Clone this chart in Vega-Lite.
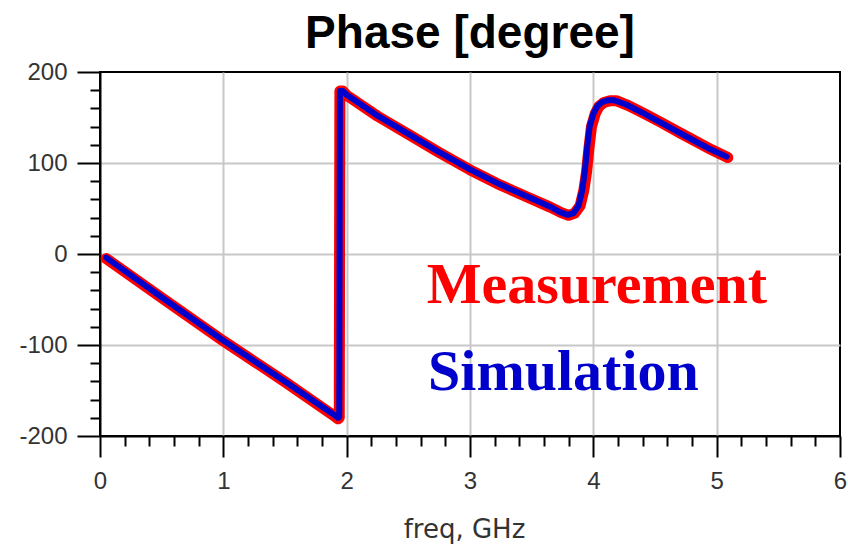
{
  "$schema": "https://vega.github.io/schema/vega-lite/v6.json",
  "width": 740,
  "height": 364,
  "autosize": {"type": "none"},
  "padding": {"left": 100, "top": 72, "right": 8, "bottom": 109},
  "background": "white",
  "title": {"text": "Phase [degree]", "font": "Liberation Sans", "fontSize": 46, "fontWeight": "bold", "color": "#000000", "anchor": "middle", "frame": "group", "baseline": "alphabetic", "offset": -34},
  "config": {"view": {"stroke": "#000000", "strokeWidth": 2}},
  "datasets": {
    "sim": [
      {"f": 0.05, "v": -4}, {"f": 0.5, "v": -47.5}, {"f": 1.0, "v": -95}, {"f": 1.5, "v": -140}, {"f": 1.9, "v": -177}, {"f": 1.93, "v": -180}, {"f": 1.94, "v": -179},
      {"f": 1.945, "v": 179}, {"f": 1.97, "v": 179}, {"f": 2.0, "v": 175}, {"f": 2.25, "v": 152}, {"f": 2.5, "v": 132}, {"f": 2.75, "v": 112}, {"f": 3.0, "v": 93},
      {"f": 3.25, "v": 76}, {"f": 3.5, "v": 61}, {"f": 3.65, "v": 52}, {"f": 3.73, "v": 46}, {"f": 3.79, "v": 43}, {"f": 3.84, "v": 45}, {"f": 3.88, "v": 53},
      {"f": 3.91, "v": 70}, {"f": 3.93, "v": 90}, {"f": 3.95, "v": 117}, {"f": 3.97, "v": 140}, {"f": 4.0, "v": 154}, {"f": 4.03, "v": 162}, {"f": 4.07, "v": 167},
      {"f": 4.12, "v": 169}, {"f": 4.17, "v": 169}, {"f": 4.27, "v": 164}, {"f": 4.4, "v": 155}, {"f": 4.54, "v": 145}, {"f": 4.7, "v": 133}, {"f": 4.81, "v": 125},
      {"f": 4.95, "v": 115}, {"f": 5.08, "v": 107}
    ],
    "meas": [
      {"f": 0.05, "v": -5}, {"f": 0.5, "v": -48}, {"f": 1.0, "v": -95.5}, {"f": 1.5, "v": -140.5}, {"f": 1.9, "v": -178}, {"f": 1.93, "v": -181}, {"f": 1.94, "v": -180},
      {"f": 1.945, "v": 179}, {"f": 1.97, "v": 179}, {"f": 2.0, "v": 174.5}, {"f": 2.25, "v": 151.5}, {"f": 2.5, "v": 131.5}, {"f": 2.75, "v": 111.5}, {"f": 3.0, "v": 92.5},
      {"f": 3.25, "v": 75.5}, {"f": 3.5, "v": 60.5}, {"f": 3.65, "v": 51.5}, {"f": 3.74, "v": 45.5}, {"f": 3.8, "v": 42.5}, {"f": 3.85, "v": 45}, {"f": 3.893, "v": 53},
      {"f": 3.923, "v": 70}, {"f": 3.945, "v": 90}, {"f": 3.965, "v": 117}, {"f": 3.985, "v": 140}, {"f": 4.015, "v": 154}, {"f": 4.045, "v": 162}, {"f": 4.085, "v": 166.5},
      {"f": 4.135, "v": 168.5}, {"f": 4.185, "v": 168.5}, {"f": 4.285, "v": 163}, {"f": 4.41, "v": 154.5}, {"f": 4.55, "v": 144.5}, {"f": 4.71, "v": 132.5}, {"f": 4.82, "v": 124.5},
      {"f": 4.96, "v": 114.5}, {"f": 5.09, "v": 106}
    ],
    "labels": [
      {"label": "Measurement", "f": 2.649, "v": -53.5},
      {"label": "Simulation", "f": 2.66, "v": -149.5}
    ]
  },
  "encoding": {
    "x": {
      "field": "f", "type": "quantitative",
      "scale": {"domain": [0, 6], "nice": false, "zero": false},
      "axis": {
        "title": "freq, GHz",
        "values": [0, 0.2, 0.4, 0.6, 0.8, 1, 1.2, 1.4, 1.6, 1.8, 2, 2.2, 2.4, 2.6, 2.8, 3, 3.2, 3.4, 3.6, 3.8, 4, 4.2, 4.4, 4.6, 4.8, 5, 5.2, 5.4, 5.6, 5.8, 6],
        "labelExpr": "datum.value % 1 === 0 ? '' + datum.value : ''",
        "tickSize": {"condition": {"test": "datum.value % 1 === 0", "value": 21}, "value": 10},
        "grid": true,
        "gridColor": "#c8c8c8",
        "gridWidth": 2,
        "gridOpacity": {"condition": {"test": "datum.value % 1 === 0 && datum.value > 0 && datum.value < 6", "value": 1}, "value": 0},
        "domainColor": "#000000", "domainWidth": 2,
        "tickColor": "#000000", "tickWidth": 2,
        "labelFont": "Liberation Sans", "labelFontSize": 24, "labelColor": "#333333", "labelPadding": 12,
        "labelFlush": false, "labelOverlap": false, "labelBound": false,
        "titleFont": "DejaVu Sans", "titleFontSize": 26, "titleFontWeight": "normal", "titleColor": "#333333", "titlePadding": 23, "titleX": 364
      }
    },
    "y": {
      "field": "v", "type": "quantitative",
      "scale": {"domain": [-200, 200], "nice": false, "zero": false},
      "axis": {
        "title": null,
        "values": [-200, -180, -160, -140, -120, -100, -80, -60, -40, -20, 0, 20, 40, 60, 80, 100, 120, 140, 160, 180, 200],
        "labelExpr": "datum.value % 100 === 0 ? '' + datum.value : ''",
        "tickSize": {"condition": {"test": "datum.value % 100 === 0", "value": 23}, "value": 10},
        "grid": true,
        "gridColor": "#c8c8c8",
        "gridWidth": 2,
        "gridOpacity": {"condition": {"test": "datum.value % 100 === 0 && datum.value > -200 && datum.value < 200", "value": 1}, "value": 0},
        "domainColor": "#000000", "domainWidth": 2,
        "tickColor": "#000000", "tickWidth": 2,
        "labelFont": "Liberation Sans", "labelFontSize": 24, "labelColor": "#333333", "labelPadding": 10,
        "labelFlush": false, "labelOverlap": false, "labelBound": false
      }
    }
  },
  "layer": [
    {
      "data": {"name": "meas"},
      "mark": {"type": "line", "color": "#ff0000", "strokeWidth": 11, "strokeJoin": "round", "strokeCap": "round", "clip": true}
    },
    {
      "data": {"name": "sim"},
      "mark": {"type": "line", "color": "#0000cc", "strokeWidth": 6, "strokeJoin": "round", "strokeCap": "round", "clip": true}
    },
    {
      "data": {"name": "labels"},
      "mark": {"type": "text", "align": "left", "baseline": "alphabetic", "font": "Liberation Serif", "fontWeight": "bold", "fontSize": 58},
      "encoding": {
        "text": {"field": "label", "type": "nominal"},
        "color": {"field": "label", "type": "nominal", "scale": {"domain": ["Measurement", "Simulation"], "range": ["#ff0000", "#0000cc"]}, "legend": null}
      }
    }
  ]
}
